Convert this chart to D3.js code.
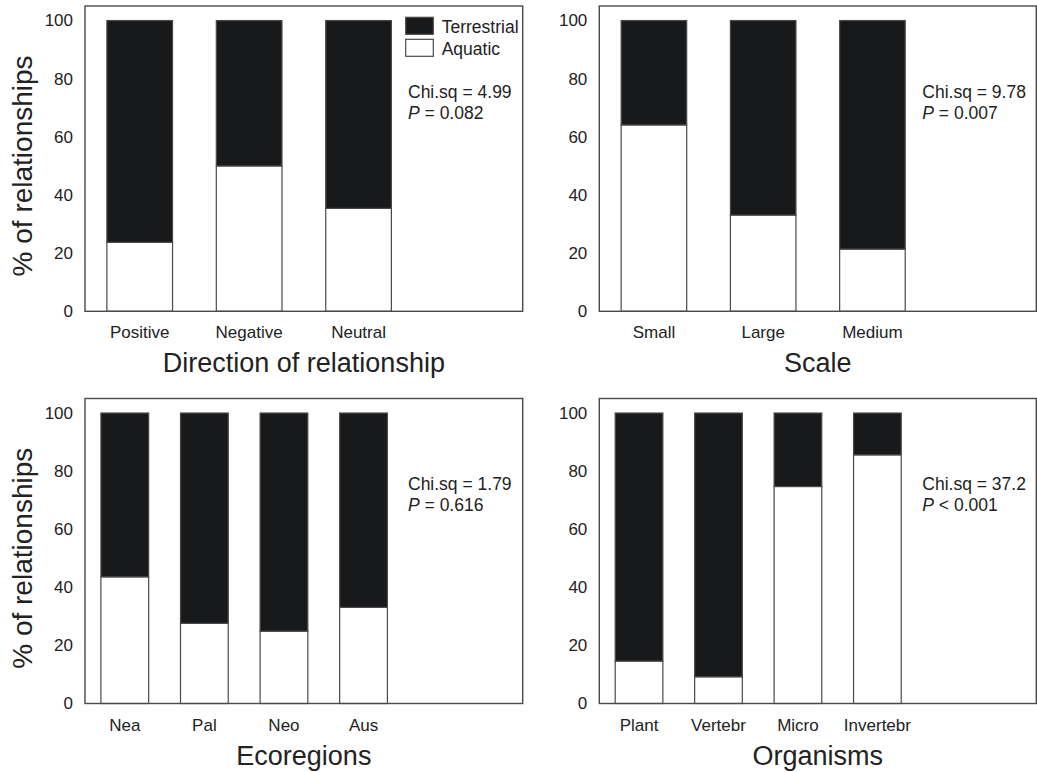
<!DOCTYPE html>
<html>
<head>
<meta charset="utf-8">
<script src="https://cdn.jsdelivr.net/npm/d3@7"></script>
<style>
  body { margin: 0; background: #fff; }
  svg { display: block; font-family: "Liberation Sans", Arial, sans-serif; }
</style>
</head>
<body>
<svg id="chart" width="1037" height="772"></svg>
<script>
// data (% of relationships)
const directionCats = ['Positive', 'Negative', 'Neutral'];
const directionAquatic = [23.7, 50.0, 35.4];
const directionTerrestrial = [76.3, 50.0, 64.6];

const scaleCats = ['Small', 'Large', 'Medium'];
const scaleAquatic = [64.1, 33.1, 21.4];
const scaleTerrestrial = [35.9, 66.9, 78.6];

const ecoCats = ['Nea', 'Pal', 'Neo', 'Aus'];
const ecoAquatic = [43.6, 27.6, 24.9, 33.1];
const ecoTerrestrial = [56.4, 72.4, 75.1, 66.9];

const orgCats = ['Plant', 'Vertebr', 'Micro', 'Invertebr'];
const orgAquatic = [14.6, 9.2, 74.7, 85.6];
const orgTerrestrial = [85.4, 90.8, 25.3, 14.4];

const yTicks = [0, 20, 40, 60, 80, 100];
const seriesNames = ['Aquatic', 'Terrestrial'];

const panels = [
  { title: 'Direction of relationship', cats: directionCats, aq: directionAquatic, te: directionTerrestrial,
    chi: '4.99', op: '=', p: '0.082', box: [85, 6, 522.7, 311.3], slots: 4, ylab: true, legend: true },
  { title: 'Scale', cats: scaleCats, aq: scaleAquatic, te: scaleTerrestrial,
    chi: '9.78', op: '=', p: '0.007', box: [599.3, 6, 1036.3, 311.3], slots: 4, ylab: false },
  { title: 'Ecoregions', cats: ecoCats, aq: ecoAquatic, te: ecoTerrestrial,
    chi: '1.79', op: '=', p: '0.616', box: [85, 398.5, 522.7, 703.5], slots: 5.5, ylab: true },
  { title: 'Organisms', cats: orgCats, aq: orgAquatic, te: orgTerrestrial,
    chi: '37.2', op: '<', p: '0.001', box: [599.3, 398.5, 1036.3, 703.5], slots: 5.5, ylab: false }
];

const ink = '#222';
const line = '#4a4a4a';
const fill = { Aquatic: '#fff', Terrestrial: '#18191b' };
const svg = d3.select('#chart');

panels.forEach(pn => {
  const [x0, y0, x1, y1] = pn.box;
  const w = x1 - x0;
  const slot = w / pn.slots;

  const g = svg.append('g').attr('transform', `translate(${x0},${y0})`);

  const y = d3.scaleLinear().domain([0, 105]).range([y1 - y0, 0]);
  const x = d3.scaleBand().domain(pn.cats).range([0, slot * pn.cats.length])
    .paddingInner(0.4).paddingOuter(0.2);

  const rows = pn.cats.map((c, i) => ({ cat: c, Aquatic: pn.aq[i], Terrestrial: pn.te[i] }));
  const stacked = d3.stack().keys(seriesNames)(rows);

  g.selectAll('g.layer').data(stacked).enter().append('g')
    .attr('class', 'layer')
    .attr('fill', d => fill[d.key])
    .selectAll('rect').data(d => d).enter().append('rect')
    .attr('x', d => x(d.data.cat))
    .attr('width', x.bandwidth())
    .attr('y', d => y(d[1]))
    .attr('height', d => y(d[0]) - y(d[1]))
    .attr('stroke', line)
    .attr('stroke-width', 1.2);

  // frame
  g.append('rect')
    .attr('width', w).attr('height', y1 - y0)
    .attr('fill', 'none').attr('stroke', line).attr('stroke-width', 1.4);

  const yAxis = g.append('g').call(d3.axisLeft(y).tickValues(yTicks).tickSize(0).tickPadding(12));
  yAxis.select('.domain').remove();
  yAxis.selectAll('text').attr('fill', ink).style('font-size', '17px')
    .style('font-family', '"Liberation Sans", Arial, sans-serif');

  const xAxis = g.append('g').attr('transform', `translate(0,${y1 - y0})`)
    .call(d3.axisBottom(x).tickSize(0).tickPadding(15));
  xAxis.select('.domain').remove();
  xAxis.selectAll('text').attr('fill', ink).style('font-size', '17px')
    .style('font-family', '"Liberation Sans", Arial, sans-serif');

  g.append('text')
    .attr('x', w / 2).attr('y', y1 - y0 + 61)
    .attr('text-anchor', 'middle').attr('fill', ink)
    .style('font-size', '27px').text(pn.title);

  if (pn.ylab) {
    g.append('text')
      .attr('transform', `translate(${32 - x0},${y(50)}) rotate(-90)`)
      .attr('text-anchor', 'middle').attr('fill', ink)
      .style('font-size', '28px').text('% of relationships');
  }

  const stat = g.append('text').attr('x', 323).attr('y', y(100) + 77)
    .attr('fill', ink).style('font-size', '17.5px');
  stat.append('tspan').text(`Chi.sq = ${pn.chi}`);
  const l2 = g.append('text').attr('x', 323).attr('y', y(100) + 98)
    .attr('fill', ink).style('font-size', '17.5px');
  l2.append('tspan').style('font-style', 'italic').text('P');
  l2.append('tspan').text(` ${pn.op} ${pn.p}`);

  if (pn.legend) {
    const lg = g.append('g').attr('transform', 'translate(320.7,11.3)');
    ['Terrestrial', 'Aquatic'].forEach((k, i) => {
      lg.append('rect').attr('x', 0).attr('y', i * 22)
        .attr('width', 27.6).attr('height', 17)
        .attr('fill', fill[k]).attr('stroke', line).attr('stroke-width', 1.2);
      lg.append('text').attr('x', 36).attr('y', i * 22 + 16)
        .attr('fill', ink).style('font-size', '17.5px').text(k);
    });
  }
});
</script>
</body>
</html>
